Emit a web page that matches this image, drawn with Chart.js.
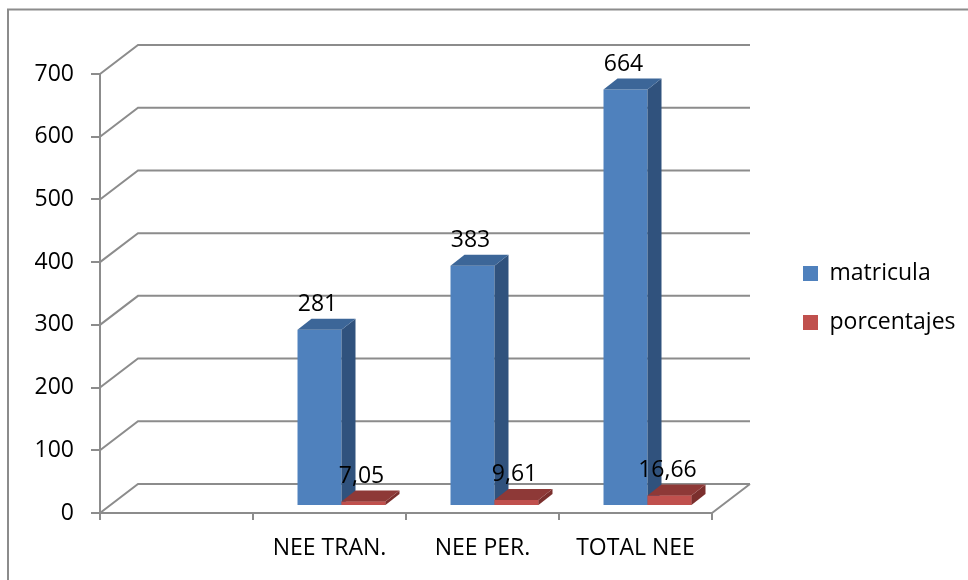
<!DOCTYPE html>
<html lang="es">
<head>
  <meta charset="UTF-8">
  <title>Matricula NEE</title>
  <script src="https://cdn.jsdelivr.net/npm/chart.js"></script>
  <style>
    html, body { margin: 0; padding: 0; background: #fff; }
    #wrap { width: 968px; height: 580px; position: relative; }
  </style>
</head>
<body>
  <div id="wrap"><canvas id="neeChart"></canvas></div>

  <script>
    const categories = ['', 'NEE TRAN.', 'NEE PER.', 'TOTAL NEE'];
    const matricula = [null, 281, 383, 664];
    const porcentajes = [null, 7.05, 9.61, 16.66];
    const yTicks = [0, 100, 200, 300, 400, 500, 600, 700];

    const FONT = "'Open Sans', sans-serif";
    const GRID = '#8c8c8c';
    // depth of the wall / of the bars, for the fake 3D look
    const WALL = { dx: 38, dy: -29 };
    const BAR_SHIFT = { dx: 12, dy: -7 };
    const BAR_DEPTH = { dx: 14, dy: -11 };
    const faces = [
      { side: '#30527d', top: '#3c6698' },
      { side: '#7b2f2d', top: '#8e3937' }
    ];

    const fmt = v => v.toString().replace('.', ',');

    function drawFaces(ctx, meta, data, f) {
      meta.data.forEach((el, i) => {
        if (data[i] == null) return;
        const L = el.x - el.width / 2, R = el.x + el.width / 2;
        const T = el.y, B = el.base;
        ctx.fillStyle = f.side;
        ctx.beginPath();
        ctx.moveTo(R, T);
        ctx.lineTo(R + BAR_DEPTH.dx, T + BAR_DEPTH.dy);
        ctx.lineTo(R + BAR_DEPTH.dx, B + BAR_DEPTH.dy);
        ctx.lineTo(R, B);
        ctx.closePath();
        ctx.fill();
        ctx.fillStyle = f.top;
        ctx.beginPath();
        ctx.moveTo(L, T);
        ctx.lineTo(L + BAR_DEPTH.dx, T + BAR_DEPTH.dy);
        ctx.lineTo(R + BAR_DEPTH.dx, T + BAR_DEPTH.dy);
        ctx.lineTo(R, T);
        ctx.closePath();
        ctx.fill();
      });
    }

    const threeD = {
      id: 'threeD',
      beforeDraw(chart) {
        const ctx = chart.ctx;
        ctx.save();
        ctx.strokeStyle = GRID;
        ctx.lineWidth = 2;
        ctx.strokeRect(8, 9.5, 2000, 2000);
        ctx.restore();
      },
      beforeDatasetsDraw(chart) {
        const { ctx, chartArea: a, scales: { y } } = chart;
        ctx.save();
        ctx.strokeStyle = GRID;
        ctx.lineWidth = 2;
        ctx.beginPath();
        yTicks.forEach(v => {
          const py = y.getPixelForValue(v);
          ctx.moveTo(a.left, py);
          ctx.lineTo(a.left + WALL.dx, py + WALL.dy);
          ctx.lineTo(a.right + WALL.dx, py + WALL.dy);
        });
        ctx.moveTo(a.right, a.bottom);
        ctx.lineTo(a.right + WALL.dx, a.bottom + WALL.dy);
        ctx.stroke();
        ctx.restore();

        ctx.save();
        ctx.translate(BAR_SHIFT.dx, BAR_SHIFT.dy);
      },
      afterDatasetsDraw(chart) {
        const ctx = chart.ctx;
        // blue faces first, then red bars again so they sit in front of the blue side
        chart.data.datasets.forEach((ds, di) => {
          const meta = chart.getDatasetMeta(di);
          if (di > 0) meta.data.forEach((el, i) => { if (ds.data[i] != null) el.draw(ctx); });
          drawFaces(ctx, meta, ds.data, faces[di]);
        });

        ctx.font = '23px ' + FONT;
        ctx.fillStyle = '#000';
        ctx.textAlign = 'center';
        ctx.textBaseline = 'alphabetic';
        chart.data.datasets.forEach((ds, di) => {
          chart.getDatasetMeta(di).data.forEach((el, i) => {
            if (ds.data[i] == null) return;
            ctx.fillText(fmt(ds.data[i]), el.x - 2, el.y - 19);
          });
        });
        ctx.restore();
      }
    };

    new Chart(document.getElementById('neeChart'), {
      type: 'bar',
      data: {
        labels: categories,
        datasets: [
          { label: 'matricula', data: matricula, backgroundColor: '#4f81bd', borderWidth: 0 },
          { label: 'porcentajes', data: porcentajes, backgroundColor: '#c0504d', borderWidth: 0 }
        ]
      },
      options: {
        responsive: true,
        maintainAspectRatio: false,
        devicePixelRatio: 1,
        animation: false,
        layout: { padding: { left: 35, top: 74, right: 10, bottom: 19 } },
        datasets: { bar: { categoryPercentage: 0.575, barPercentage: 1, clip: false } },
        scales: {
          x: {
            grid: { drawOnChartArea: false, tickLength: 7, color: GRID, lineWidth: 2 },
            border: { color: GRID, width: 2 },
            ticks: { color: '#000', padding: 15, font: { family: FONT, size: 23 } },
            afterFit: s => { s.height = 48; }
          },
          y: {
            min: 0, max: 700,
            grid: { drawOnChartArea: false, tickLength: 9, color: GRID, lineWidth: 2 },
            border: { color: GRID, width: 2 },
            ticks: { stepSize: 100, color: '#000', padding: 17, font: { family: FONT, size: 23 } },
            afterFit: s => { s.width = 65; }
          },
          y2: {
            type: 'linear', position: 'right', display: true,
            grid: { display: false }, border: { display: false },
            ticks: { display: false },
            afterFit: s => { s.width = 65; }
          }
        },
        plugins: {
          legend: {
            position: 'right',
            fullSize: false,
            maxWidth: 181,
            // empty title only nudges the items down a little
            title: { display: true, text: '', padding: 0, font: { size: 7.5 } },
            labels: {
              color: '#000', boxWidth: 15, boxHeight: 15, padding: 26,
              font: { family: FONT, size: 23 },
              sort: (a, b) => a.datasetIndex - b.datasetIndex
            }
          },
          tooltip: { enabled: false }
        }
      },
      plugins: [threeD]
    });
  </script>
</body>
</html>
